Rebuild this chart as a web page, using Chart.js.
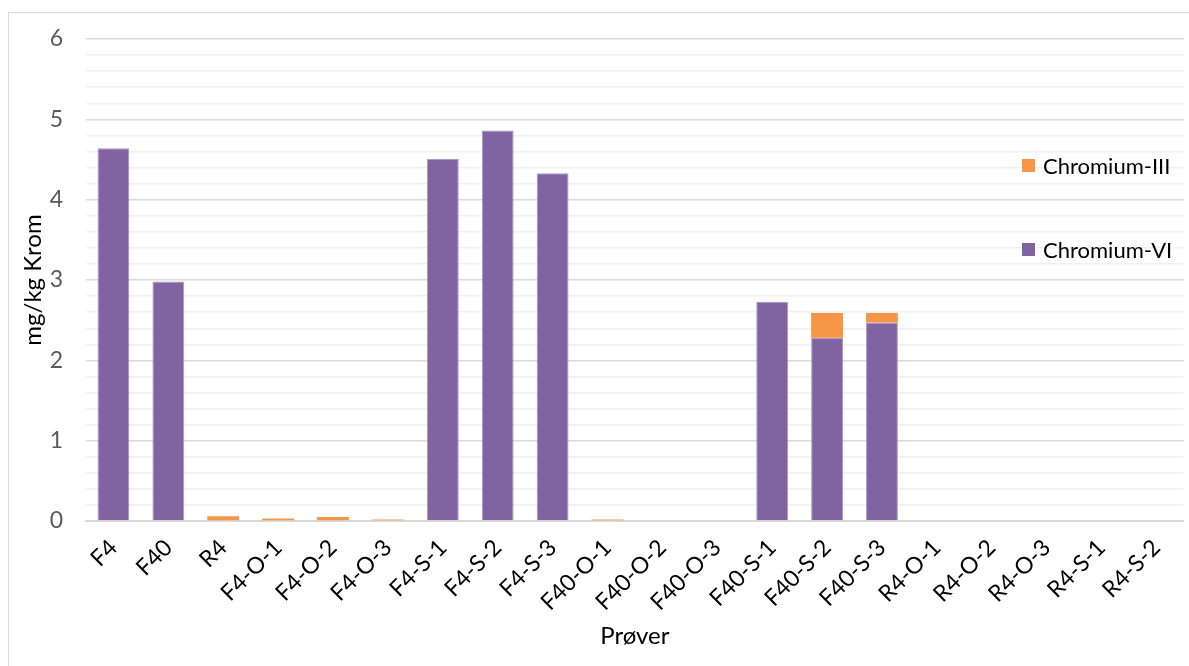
<!DOCTYPE html>
<html>
<head>
<meta charset="utf-8">
<script src="https://cdn.jsdelivr.net/npm/chart.js@4/dist/chart.umd.min.js"></script>
<style>
  html, body { margin: 0; padding: 0; background: #ffffff; }
  #wrap { position: relative; width: 1189px; height: 666px; }
  #frame { position: absolute; left: 8px; top: 12px; width: 1200px; height: 700px; border: 1px solid #d9d9d9; box-sizing: border-box; pointer-events: none; }
  canvas { display: block; }
</style>
</head>
<body>
<div id="wrap">
  <canvas id="chart" width="1189" height="666"></canvas>
  <div id="frame"></div>
</div>
<script>
// Samples (x axis)
const categories = ['F4', 'F40', 'R4', 'F4-O-1', 'F4-O-2', 'F4-O-3', 'F4-S-1', 'F4-S-2', 'F4-S-3',
  'F40-O-1', 'F40-O-2', 'F40-O-3', 'F40-S-1', 'F40-S-2', 'F40-S-3',
  'R4-O-1', 'R4-O-2', 'R4-O-3', 'R4-S-1', 'R4-S-2'];

// mg/kg chromium per sample
const chromiumVI  = [4.64, 2.98, 0, 0, 0, 0, 4.51, 4.86, 4.33, 0, 0, 0, 2.73, 2.28, 2.47, 0, 0, 0, 0, 0];
const chromiumIII = [0, 0, 0.06, 0.03, 0.05, 0.02, 0, 0, 0, 0.02, 0, 0, 0, 0.31, 0.12, 0, 0, 0, 0, 0];

const seriesNames = ['Chromium-VI', 'Chromium-III'];
const yAxisTitle = 'mg/kg Krom';
const xAxisTitle = 'Prøver';

const FONT = 'Lato, "Open Sans", sans-serif';
const isMajor = v => Math.abs(v - Math.round(v)) < 1e-6;

// Legend drawn over the plot area, right side
const overlayLegend = {
  id: 'overlayLegend',
  afterDraw(chart) {
    const ctx = chart.ctx;
    const entries = [
      { ds: chart.data.datasets[1], y: 166 },
      { ds: chart.data.datasets[0], y: 250 }
    ];
    ctx.save();
    ctx.font = '22px ' + FONT;
    ctx.textBaseline = 'middle';
    ctx.textAlign = 'left';
    entries.forEach(e => {
      ctx.fillStyle = e.ds.backgroundColor;
      ctx.fillRect(1022, e.y - 7, 13, 13);
      ctx.fillStyle = '#000000';
      ctx.fillText(e.ds.label, 1043, e.y + 1);
    });
    ctx.restore();
  }
};

new Chart(document.getElementById('chart'), {
  type: 'bar',
  data: {
    labels: categories,
    datasets: [
      {
        label: seriesNames[0],
        data: chromiumVI,
        backgroundColor: '#8064A2',
        borderColor: '#a995c4',
        borderWidth: 1,
        borderSkipped: 'start'
      },
      {
        label: seriesNames[1],
        data: chromiumIII,
        backgroundColor: '#F79646',
        borderColor: '#F79646',
        borderWidth: 0,
        borderSkipped: 'start'
      }
    ]
  },
  options: {
    responsive: false,
    animation: false,
    devicePixelRatio: 1,
    layout: { padding: { left: 10, right: 2, top: 39, bottom: 5 } },
    plugins: {
      legend: { display: false },
      tooltip: { enabled: false }
    },
    datasets: {
      bar: { categoryPercentage: 1.0, barPercentage: 0.58 }
    },
    scales: {
      x: {
        stacked: true,
        grid: { display: false, drawTicks: false },
        border: { display: true, color: '#d9d9d9', width: 2 },
        ticks: {
          color: '#000000',
          font: { family: FONT, size: 23 },
          minRotation: 45,
          maxRotation: 45,
          autoSkip: false,
          padding: 13
        },
        title: {
          display: true,
          text: xAxisTitle,
          color: '#000000',
          font: { family: FONT, size: 24 },
          padding: { top: 0, bottom: 10 }
        },
        afterFit(scale) { scale.height = 140; }
      },
      y: {
        stacked: true,
        min: 0,
        max: 6,
        grid: {
          drawTicks: false,
          color: c => isMajor(c.tick.value) ? '#d9d9d9' : '#f0f0f0',
          lineWidth: c => isMajor(c.tick.value) ? 1.6 : 1.4
        },
        border: { display: false },
        ticks: {
          stepSize: 0.2,
          autoSkip: false,
          color: '#595959',
          font: { family: FONT, size: 23 },
          padding: 23,
          callback: v => isMajor(v) ? String(Math.round(v)) : ''
        },
        title: {
          display: true,
          text: yAxisTitle,
          color: '#000000',
          font: { family: FONT, size: 24 },
          padding: { top: 9, bottom: 0 }
        },
        afterFit(scale) { scale.width = 76; }
      }
    }
  },
  plugins: [overlayLegend]
});
</script>
</body>
</html>
